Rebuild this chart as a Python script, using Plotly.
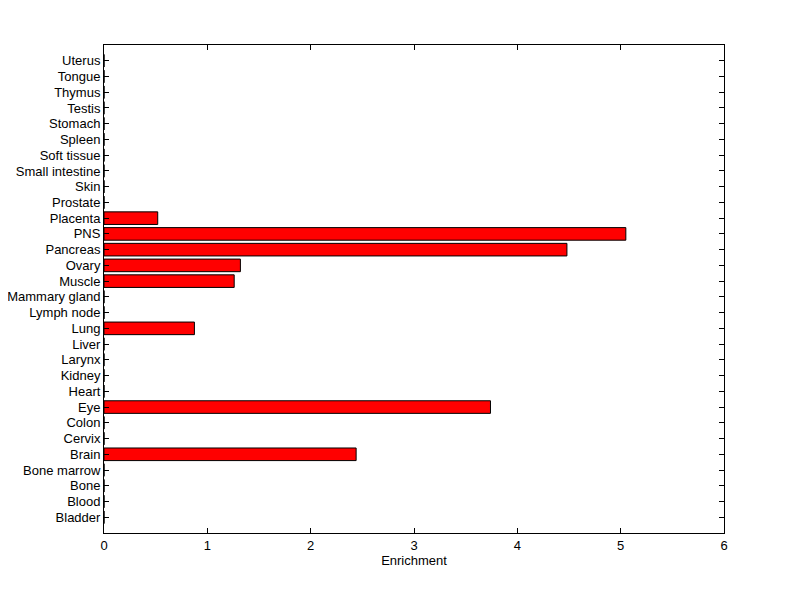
import plotly.graph_objects as go

# tissues, bottom to top
tissues = [
    "Bladder", "Blood", "Bone", "Bone marrow", "Brain", "Cervix", "Colon", "Eye",
    "Heart", "Kidney", "Larynx", "Liver", "Lung", "Lymph node", "Mammary gland",
    "Muscle", "Ovary", "Pancreas", "PNS", "Placenta", "Prostate", "Skin",
    "Small intestine", "Soft tissue", "Spleen", "Stomach", "Testis", "Thymus",
    "Tongue", "Uterus",
]
enrichment = [
    0, 0, 0, 0, 2.44, 0, 0, 3.74,
    0, 0, 0, 0, 0.875, 0, 0,
    1.26, 1.32, 4.48, 5.05, 0.52, 0, 0,
    0, 0, 0, 0, 0, 0,
    0, 0,
]
x_ticks = [0, 1, 2, 3, 4, 5, 6]

pos = list(range(len(tissues)))

fig = go.Figure()
fig.add_trace(
    go.Bar(
        x=enrichment,
        y=pos,
        orientation="h",
        width=0.8,
        marker=dict(color="#ff0000", line=dict(color="black", width=1)),
    )
)

font = dict(family="Liberation Sans, Arial, sans-serif", size=13, color="black")

axis_common = dict(
    showgrid=False,
    zeroline=False,
    showline=True,
    linecolor="black",
    linewidth=1,
    mirror="ticks",
    ticks="inside",
    ticklen=5,
    tickcolor="black",
    tickfont=font,
    automargin=False,
)

# page body has an 8px margin, so the figure is a bit smaller than the window
fig.update_layout(
    width=792,
    height=591,
    margin=dict(l=96, r=76, t=37, b=66),
    paper_bgcolor="white",
    plot_bgcolor="white",
    showlegend=False,
    xaxis=dict(
        range=[0, 6],
        tickvals=x_ticks,
        title=dict(text="Enrichment", font=font, standoff=4),
        **axis_common,
    ),
    yaxis=dict(
        range=[-1, len(tissues)],
        tickvals=pos,
        ticktext=tissues,
        **axis_common,
    ),
)

fig.write_html("out.html")
